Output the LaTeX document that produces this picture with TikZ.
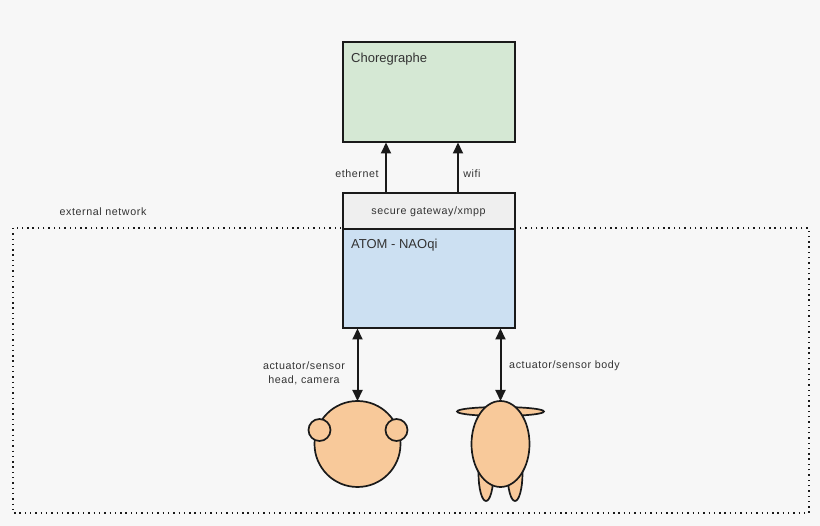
\documentclass[tikz,border=0pt]{standalone}
\usepackage{fontspec}
\setmainfont{Liberation Sans}
\newfontfamily\spacedfont[LetterSpace=5.5]{Liberation Sans}
\usetikzlibrary{arrows.meta,shapes.geometric}
\definecolor{bgc}{HTML}{F7F7F7}
\definecolor{linec}{HTML}{1A1A1A}
\definecolor{greenc}{HTML}{D5E8D4}
\definecolor{bluec}{HTML}{CCE0F2}
\definecolor{grayc}{HTML}{EFEFEF}
\definecolor{skinc}{HTML}{F8C99A}
\definecolor{textc}{HTML}{333333}
\tikzset{
  boxs/.style={draw=linec,line width=2pt,minimum width=172pt,inner sep=0pt,outer sep=0pt,anchor=north west},
  lbl/.style={text=textc,font=\spacedfont\fontsize{10.7}{13.5}\selectfont,inner sep=0pt,align=center},
  boxlbl/.style={text=textc,font=\fontsize{13}{15}\selectfont,inner sep=0pt,anchor=west},
  conn/.style={draw=linec,line width=2pt},
  up/.style={conn,-{Triangle[length=11pt,width=10pt]}},
  both/.style={conn,{Triangle[length=11pt,width=10pt]}-{Triangle[length=11pt,width=10pt]}},
  skin/.style={draw=linec,line width=1.7pt,fill=skinc,ellipse,inner sep=0pt,outer sep=0pt}
}
\begin{document}
\begin{tikzpicture}[x=1pt,y=-1pt]
\useasboundingbox (0,0) rectangle (820,526);
\fill[bgc] (0,0) rectangle (820,526);
\draw[linec,line width=1.5pt,dash pattern=on 1.4pt off 3.9pt] (13,228) rectangle (809,513);
\node[boxs,fill=greenc,minimum height=100pt] (chore) at (343,42) {};
\node[boxs,fill=grayc,minimum height=36pt] (gate) at (343,193) {};
\node[boxs,fill=bluec,minimum height=99.5pt] (atom) at (343,229) {};
\node[boxlbl] (chorelbl) at (351,59) {Choregraphe};
\node[boxlbl] (atomlbl) at (351,245.5) {ATOM - NAOqi};
\node[lbl] (gatelbl) at (428.5,212) {secure gateway/xmpp};
\coordinate (g1) at (386,193); \coordinate (c1) at (386,142.5);
\coordinate (g2) at (458,193); \coordinate (c2) at (458,142.5);
\draw[up] (g1) -- (c1);
\draw[up] (g2) -- (c2);
\node[lbl] (eth) at (357,174) {ethernet};
\node[lbl] (wifi) at (472,174) {wifi};
\node[lbl] (ext) at (103,212) {external network};
\node[lbl] (headlbl) at (304,373.5) {actuator/sensor\\head, camera};
\node[lbl] (bodylbl) at (564.5,366) {actuator/sensor body};
% head
\node[skin,minimum width=86pt,minimum height=86pt] (head) at (357.5,444) {};
\node[skin,minimum width=22pt,minimum height=22pt] (earl) at (319.5,430) {};
\node[skin,minimum width=22pt,minimum height=22pt] (earr) at (396.5,430) {};
% body
\node[skin,minimum width=15pt,minimum height=56pt] (legl) at (486,473) {};
\node[skin,minimum width=15pt,minimum height=56pt] (legr) at (515,473) {};
\node[skin,minimum width=87pt,minimum height=9pt] (arms) at (500.5,411.5) {};
\node[skin,minimum width=58pt,minimum height=86pt] (body) at (500.5,444) {};
\draw[both] (atom.south -| head.north) -- (head.north);
\draw[both] (atom.south -| body.north) -- (body.north);
\end{tikzpicture}
\end{document}
